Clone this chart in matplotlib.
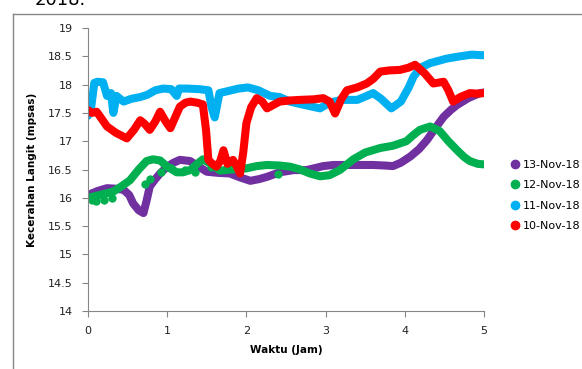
import matplotlib.pyplot as plt
from matplotlib.lines import Line2D

# series (x = hours, y = mpsas)
x_13 = [0.0, 0.12, 0.24, 0.36, 0.45, 0.52, 0.57, 0.64, 0.7, 0.74, 0.78, 0.85, 0.91, 1.0, 1.08, 1.16, 1.29, 1.4, 1.5, 1.65,
        1.79, 1.92, 2.05, 2.16, 2.26, 2.42, 2.6, 2.76, 2.97, 3.1, 3.27, 3.45, 3.6, 3.75, 3.85, 3.95, 4.07, 4.18,
        4.28, 4.38, 4.49, 4.58, 4.66, 4.8, 4.95, 5.0]
y_13 = [16.05, 16.12, 16.17, 16.16, 16.14, 16.05, 15.9, 15.78, 15.73, 15.95, 16.2, 16.33, 16.43, 16.55, 16.62, 16.67, 16.65, 16.55, 16.46, 16.44,
        16.43, 16.36, 16.3, 16.33, 16.37, 16.45, 16.49, 16.49, 16.56, 16.58, 16.58, 16.58, 16.58, 16.57, 16.56, 16.62, 16.73, 16.86,
        17.02, 17.22, 17.43, 17.55, 17.64, 17.76, 17.85, 17.86]

x_12 = [0.0, 0.15, 0.32, 0.42, 0.53, 0.64, 0.74, 0.82, 0.91, 1.0, 1.12, 1.2, 1.29, 1.38, 1.45, 1.55, 1.67, 1.8, 2.0, 2.13,
        2.26, 2.42, 2.55, 2.68, 2.8, 2.93, 3.05, 3.18, 3.35, 3.5, 3.69, 3.85, 4.02, 4.1, 4.19, 4.32, 4.44, 4.55,
        4.66, 4.75, 4.82, 4.92, 5.0]
y_12 = [16.0, 16.05, 16.11, 16.2, 16.31, 16.5, 16.65, 16.68, 16.66, 16.55, 16.45, 16.45, 16.49, 16.6, 16.68, 16.6, 16.48, 16.5, 16.52, 16.56,
        16.58, 16.57, 16.55, 16.5, 16.43, 16.38, 16.4, 16.49, 16.68, 16.8, 16.88, 16.92, 17.0, 17.1, 17.2, 17.26, 17.18, 17.0,
        16.84, 16.72, 16.65, 16.6, 16.59]
x_12_dots = [0.05, 0.1, 0.2, 0.3, 0.72, 0.78, 0.92, 1.05, 1.22, 1.35, 1.55, 2.4]
y_12_dots = [15.96, 15.94, 15.96, 16.0, 16.25, 16.33, 16.45, 16.52, 16.5, 16.45, 16.55, 16.42]

x_11 = [0.0, 0.04, 0.08, 0.12, 0.19, 0.24, 0.29, 0.32, 0.36, 0.45, 0.55, 0.66, 0.75, 0.85, 0.95, 1.05, 1.12, 1.15, 1.25, 1.4,
        1.52, 1.56, 1.6, 1.66, 1.75, 1.9, 2.02, 2.15, 2.3, 2.42, 2.55, 2.7, 2.93, 3.05, 3.2, 3.4, 3.52, 3.6, 3.7,
        3.83, 3.95, 4.05, 4.11, 4.2, 4.32, 4.53, 4.7, 4.85, 4.95, 5.0]
y_11 = [17.45, 17.6, 18.03, 18.05, 18.04, 17.8, 17.85, 17.5, 17.8, 17.7, 17.75, 17.78, 17.82, 17.9, 17.93, 17.92, 17.8, 17.93, 17.93, 17.92,
        17.9, 17.6, 17.42, 17.85, 17.88, 17.93, 17.95, 17.9, 17.8, 17.78, 17.7, 17.65, 17.58, 17.68, 17.73, 17.73, 17.8, 17.85, 17.75,
        17.58, 17.7, 17.95, 18.14, 18.3, 18.38, 18.46, 18.5, 18.53, 18.52, 18.52]

x_10 = [0.0, 0.05, 0.11, 0.17, 0.24, 0.35, 0.49, 0.58, 0.66, 0.72, 0.78, 0.85, 0.91, 0.98, 1.04, 1.1, 1.16, 1.23, 1.29, 1.38,
        1.45, 1.49, 1.52, 1.57, 1.62, 1.67, 1.71, 1.76, 1.83, 1.88, 1.92, 1.96, 2.0, 2.06, 2.13, 2.2, 2.26, 2.42, 2.55,
        2.68, 2.85, 2.97, 3.05, 3.12, 3.2, 3.27, 3.4, 3.52, 3.6, 3.69, 3.8, 3.94, 4.05, 4.13, 4.25, 4.36, 4.49, 4.55,
        4.61, 4.7, 4.82, 4.92, 5.0]
y_10 = [17.55, 17.5, 17.52, 17.4, 17.26, 17.15, 17.05, 17.2, 17.37, 17.3, 17.2, 17.35, 17.52, 17.35, 17.23, 17.42, 17.61, 17.68, 17.7, 17.68,
        17.65, 17.2, 16.67, 16.6, 16.55, 16.65, 16.84, 16.6, 16.67, 16.55, 16.43, 16.8, 17.32, 17.6, 17.76, 17.7, 17.58, 17.7, 17.72,
        17.73, 17.74, 17.76, 17.7, 17.49, 17.75, 17.9, 17.95, 18.02, 18.1, 18.23, 18.25, 18.26, 18.3, 18.35, 18.2, 18.02, 18.05, 17.9,
        17.7, 17.78, 17.85, 17.84, 17.85]

labels = ['13-Nov-18', '12-Nov-18', '11-Nov-18', '10-Nov-18']
colors = ['#7030A0', '#00B050', '#00B0F0', '#FF0000']

plt.rcParams['font.family'] = ['DejaVu Sans']
fig = plt.figure(figsize=(5.82, 3.69), dpi=100)

# outer frame of the embedded chart: only top and left edges are in view
fx = 12.5 / 582
fy = 1 - 13.5 / 369
fig.add_artist(Line2D([fx, 1.0], [fy, fy], transform=fig.transFigure, color='#868686', linewidth=1.0))
fig.add_artist(Line2D([fx, fx], [0.0, fy], transform=fig.transFigure, color='#868686', linewidth=1.0))
# caption line above the chart, only its lower part is visible
fig.text(0.06, 1.0, '2018.', fontsize=13, va='center', ha='left')

ax = fig.add_axes([88 / 582, 1 - 311 / 369, (484 - 88) / 582, (311 - 28) / 369])

for xs, ys, c, lab in zip([x_13, x_12, x_11, x_10], [y_13, y_12, y_11, y_10], colors, labels):
    ax.plot(xs, ys, '-', color=c, linewidth=5.8, solid_capstyle='round', solid_joinstyle='round')
    ax.plot([], [], 'o', color=c, markersize=6, label=lab)
    if lab == '12-Nov-18':
        ax.plot(x_12_dots, y_12_dots, 'o', color=c, markersize=6, markeredgewidth=0)

ax.set_xlim(0, 5)
ax.set_ylim(14, 19)
ax.set_xticks([0, 1, 2, 3, 4, 5])
ax.set_yticks([14, 14.5, 15, 15.5, 16, 16.5, 17, 17.5, 18, 18.5, 19])
ax.set_yticklabels(['14', '14.5', '15', '15.5', '16', '16.5', '17', '17.5', '18', '18.5', '19'])
for s in ['top', 'right']:
    ax.spines[s].set_visible(False)
for s in ['left', 'bottom']:
    ax.spines[s].set_color('#868686')
ax.tick_params(axis='both', colors='#868686', labelcolor='#222222', labelsize=8, length=4, direction='out')
ax.tick_params(axis='y', pad=7)
ax.tick_params(axis='x', pad=7)
ax.set_xlabel('Waktu (Jam)', fontsize=7.5, fontweight='bold', labelpad=6)
ax.set_ylabel('Kecerahan Langit (mpsas)', fontsize=7.5, fontweight='bold', labelpad=8)

ax.legend(loc='upper left', bbox_to_anchor=(1.04, 0.57), frameon=False, fontsize=8,
          handletextpad=0.2, handlelength=1.0, labelspacing=0.95)

fig.savefig('out.png', dpi=100)
